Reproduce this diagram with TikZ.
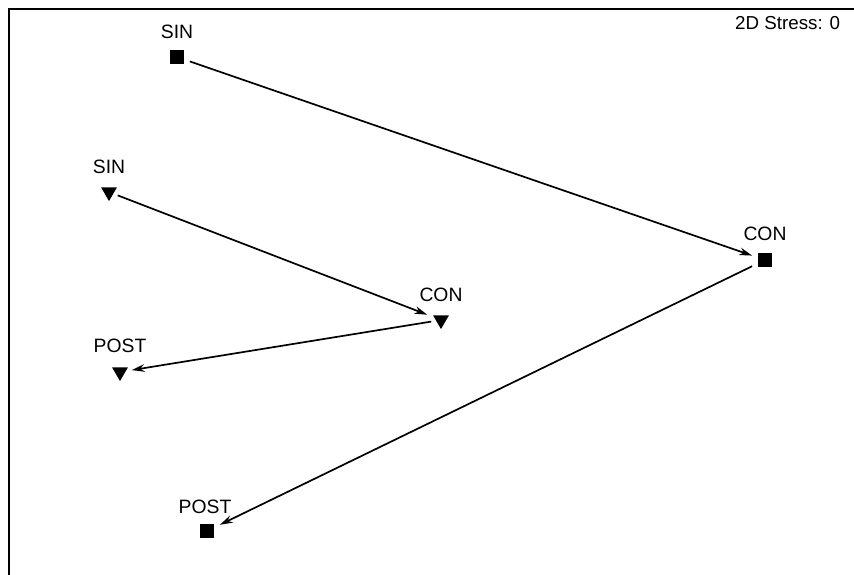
\documentclass[tikz,border=0pt]{standalone}
\usepackage{fontspec}
\setmainfont{Liberation Sans}
\usetikzlibrary{shapes.geometric,arrows.meta}

\tikzset{
  sq/.style={shape=rectangle,fill=black,draw=none,inner sep=0pt,minimum size=12pt,outer sep=5pt},
  tri/.style={shape=regular polygon,regular polygon sides=3,shape border rotate=180,fill=black,draw=none,inner sep=0pt,minimum size=15.5pt,outer sep=4pt},
  lbl/.style={draw=none,fill=none,inner sep=0pt,font=\fontsize{16.5}{18}\selectfont},
  trend/.style={line width=1.45pt,-{Stealth[length=11pt,width=6.5pt]}}
}

\begin{document}
\begin{tikzpicture}[x=0.03cm,y=-0.03cm]
        \clip (0,0) rectangle (854,574);
        % frame
        \draw[line width=1.7pt] (9,600) -- (9,9) -- (900,9);
        \node[anchor=west,inner sep=0pt,font=\fontsize{16}{18}\selectfont] (stress) at (735,23) {2D Stress: 0};
        % squares
        \node[sq] (sinS) at (177,57) {};
        \node[sq] (conS) at (765,260) {};
        \node[sq] (postS) at (207,531) {};
        % triangles
        \node[tri] (sinT) at (109,192) {};
        \node[tri] (conT) at (441,320) {};
        \node[tri] (postT) at (120,372) {};
        % labels
        \node[lbl] (lsinS) at (177,32) {SIN};
        \node[lbl] (lconS) at (765,234) {CON};
        \node[lbl] (lpostS) at (205,507) {POST};
        \node[lbl] (lsinT) at (109,167) {SIN};
        \node[lbl] (lconT) at (441,295) {CON};
        \node[lbl] (lpostT) at (120,346) {POST};
        % trajectories
        \draw[trend] (sinS) -- (conS);
        \draw[trend] (conS) -- (postS);
        \draw[trend] (sinT) -- (conT);
        \draw[trend] (conT) -- (postT);
\end{tikzpicture}
\end{document}
